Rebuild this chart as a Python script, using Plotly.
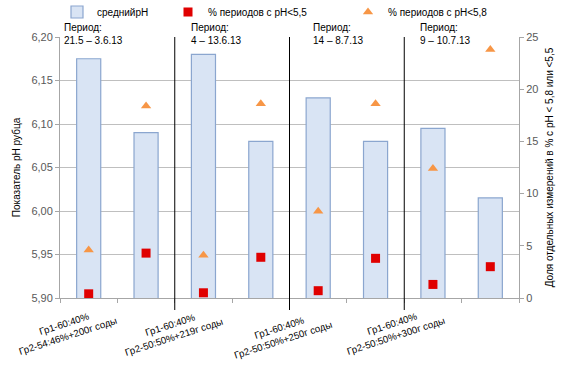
import plotly.graph_objects as go

categories = [0, 1, 2, 3, 4, 5, 6, 7]
mean_ph = [6.175, 6.09, 6.18, 6.08, 6.13, 6.08, 6.095, 6.015]
pct_below_55 = [0.4, 4.3, 0.5, 3.9, 0.7, 3.8, 1.3, 3.0]
pct_below_58 = [4.6, 18.4, 4.1, 18.6, 8.3, 18.6, 12.4, 23.8]
group_labels = [
    "Гр1-60:40%<br>Гр2-54:46%+200г соды",
    "Гр1-60:40%<br>Гр2-50:50%+219г соды",
    "Гр1-60:40%<br>Гр2-50:50%+250г соды",
    "Гр1-60:40%<br>Гр2-50:50%+300г соды",
]
period_labels = [
    "Период:<br>21.5 – 3.6.13",
    "Период:<br>4 – 13.6.13",
    "Период:<br>14 – 8.7.13",
    "Период:<br>9 – 10.7.13",
]
separators = [1.5, 3.5, 5.5]

# layout positions (not data)
period_x = [-0.45, 1.76, 3.89, 5.75]
label_x = [-0.395, 1.452, 3.35, 5.32]
label_y = [-0.124, -0.128, -0.138, -0.124]

FONT = "Liberation Sans, Arial, sans-serif"
W, H = 572, 373

fig = go.Figure()
fig.add_trace(go.Bar(
    x=categories, y=mean_ph, name="среднийpH", width=0.42,
    marker=dict(color="#d9e4f4", line=dict(color="#8ba6cf", width=1.2)),
    legend="legend",
))
fig.add_trace(go.Scatter(
    x=categories, y=pct_below_55, yaxis="y2", mode="markers",
    name="% периодов с pH<5,5",
    marker=dict(symbol="square", color="#e00000", size=9),
    legend="legend2",
))
fig.add_trace(go.Scatter(
    x=categories, y=pct_below_58, yaxis="y2", mode="markers",
    name="% периодов с pH<5,8",
    marker=dict(symbol="triangle-up", color="#f79646", size=9),
    legend="legend3",
))

shapes = []
for s in separators:
    shapes.append(dict(type="line", xref="x", yref="paper", x0=s, x1=s,
                       y0=1, y1=-0.046, line=dict(color="black", width=1)))

annotations = []
for lbl, px in zip(period_labels, period_x):
    annotations.append(dict(x=px, y=1.06, xref="x", yref="paper", text=lbl,
                            showarrow=False, xanchor="left", yanchor="top",
                            align="left", bgcolor="white", borderpad=0,
                            font=dict(size=10, color="black", family=FONT)))
for lbl, lx, ly in zip(group_labels, label_x, label_y):
    annotations.append(dict(x=lx, y=ly, xref="x", yref="paper", text=lbl,
                            showarrow=False, xanchor="center", yanchor="middle",
                            align="center", textangle=-18,
                            font=dict(size=9.7, color="black", family=FONT)))

leg_common = dict(orientation="h", xref="container", yref="container",
                  yanchor="middle", xanchor="left", itemwidth=30,
                  bgcolor="rgba(0,0,0,0)",
                  font=dict(size=10, color="black", family=FONT))
fig.update_layout(
    width=W, height=H,
    margin=dict(l=60, r=53, t=37, b=75, autoexpand=False),
    paper_bgcolor="white", plot_bgcolor="white",
    separators=", ",
    font=dict(family=FONT, color="#595959", size=11),
    barmode="overlay",
    xaxis=dict(range=[-0.5, 7.5], tickvals=[i - 0.5 for i in range(9)],
               ticktext=[""] * 9, ticks="outside", ticklen=4,
               tickcolor="#a6a6a6", showline=True, linecolor="#a6a6a6",
               showgrid=False, zeroline=False, fixedrange=True),
    yaxis=dict(range=[5.90, 6.20], dtick=0.05, tickformat=".2f",
               ticks="outside", ticklen=4, tickcolor="#a6a6a6",
               showline=True, linecolor="#a6a6a6",
               gridcolor="#bfbfbf", zeroline=False,
               title=dict(text="Показатель pH рубца",
                          font=dict(size=10, color="black"), standoff=8)),
    yaxis2=dict(range=[0, 25], dtick=5, overlaying="y", side="right",
                ticks="outside", ticklen=4, tickcolor="#a6a6a6",
                showline=True, linecolor="#a6a6a6", showgrid=False,
                zeroline=False,
                title=dict(text="Доля отдельных измерений в % с pH < 5,8 или <5,5",
                           font=dict(size=10, color="black"), standoff=8)),
    legend=dict(x=57 / W, y=1 - 12 / H, **leg_common),
    legend2=dict(x=168 / W, y=1 - 12 / H, **leg_common),
    legend3=dict(x=348 / W, y=1 - 12 / H, **leg_common),
    shapes=shapes,
    annotations=annotations,
    showlegend=True,
)

fig.write_html("out.html", config={"displayModeBar": False},
               post_script="document.body.style.margin='0';")
